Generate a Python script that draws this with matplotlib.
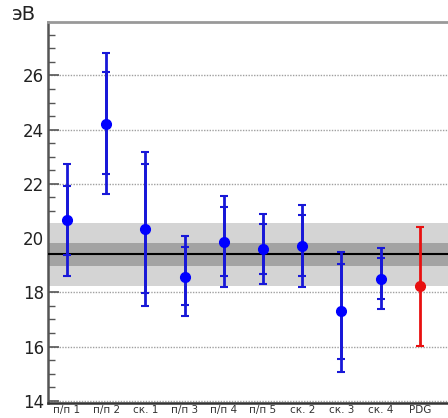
import matplotlib

matplotlib.use("Agg")
import matplotlib.pyplot as plt
import numpy as np
from matplotlib.ticker import MultipleLocator

labels = ["п/п 1", "п/п 2", "ск. 1", "п/п 3", "п/п 4", "п/п 5",
          "ск. 2", "ск. 3", "ск. 4", "PDG"]

# measurements (blue)
values = np.array([20.65, 24.21, 20.32, 18.58, 19.86, 19.60, 19.72, 17.31, 18.51])
outer_hi = np.array([22.73, 26.81, 23.16, 20.08, 21.56, 20.90, 21.24, 19.50, 19.65])
outer_lo = np.array([18.60, 21.62, 17.50, 17.13, 18.19, 18.32, 18.19, 15.08, 17.37])
inner_hi = np.array([21.94, 26.11, 22.73, 19.66, 21.15, 20.52, 20.86, 19.05, 19.26])
inner_lo = np.array([19.37, 22.35, 17.99, 17.52, 18.60, 18.66, 18.60, 15.55, 17.75])

# PDG value (red)
pdg_value = 18.22
pdg_hi = 20.40
pdg_lo = 16.04

# average with 1 and 3 sigma bands
mean = 19.42
band_inner = (18.99, 19.82)
band_outer = (18.23, 20.57)

fig = plt.figure(figsize=(4.48, 4.18), dpi=100)
ax = fig.add_axes([48 / 448, 15 / 418, 400 / 448, 381 / 418])

x = np.arange(len(labels))
ax.set_xlim(-0.485, 9.72)
ax.set_ylim(13.92, 27.97)

ax.yaxis.grid(True, which="major", color="#a0a0a0", ls=(0, (1, 1)), lw=1.0, zorder=0)
ax.set_axisbelow(True)

ax.axhspan(*band_outer, color="#d4d4d4", lw=0, zorder=1)
ax.axhspan(*band_inner, color="#a3a3a3", lw=0, zorder=2)
ax.axhline(mean, color="black", lw=1.5, zorder=3)

bx = x[:-1]
ax.errorbar(bx, values, yerr=[values - outer_lo, outer_hi - values], fmt="none",
            ecolor="#1818d8", elinewidth=2.0, capsize=3, capthick=1.5, zorder=4)
ax.errorbar(bx, values, yerr=[values - inner_lo, inner_hi - values], fmt="none",
            ecolor="#1818d8", elinewidth=2.0, capsize=3, capthick=1.5, zorder=4)
ax.plot(bx, values, "o", color="#0000ff", ms=7, zorder=5)

ax.errorbar([x[-1]], [pdg_value], yerr=[[pdg_value - pdg_lo], [pdg_hi - pdg_value]],
            fmt="o", color="#e81010", ecolor="#e81010", ms=7, elinewidth=2.0,
            capsize=3, capthick=1.5, zorder=5)

ax.set_xticks(x)
ax.set_xticklabels(labels, fontsize=7.5, color="#333333")
ax.tick_params(axis="x", length=0, pad=1.5)

ax.yaxis.set_major_locator(MultipleLocator(2))
ax.yaxis.set_minor_locator(MultipleLocator(0.5))
ax.tick_params(axis="y", which="major", direction="in", length=8, width=1.2,
               color="#555555", labelsize=12, labelcolor="#222222", pad=3)
ax.tick_params(axis="y", which="minor", direction="in", length=5, width=1.0,
               color="#555555")

ax.spines["right"].set_visible(False)
ax.spines["top"].set_color("#999999")
ax.spines["top"].set_linewidth(2.0)
ax.spines["left"].set_color("#555555")
ax.spines["left"].set_linewidth(1.8)
ax.spines["bottom"].set_color("#333333")
ax.spines["bottom"].set_linewidth(1.8)

fig.text(12 / 448, 1 - 15 / 418, "эВ", fontsize=14, va="center", ha="left",
         color="#222222")

fig.savefig("out.png", dpi=100)
